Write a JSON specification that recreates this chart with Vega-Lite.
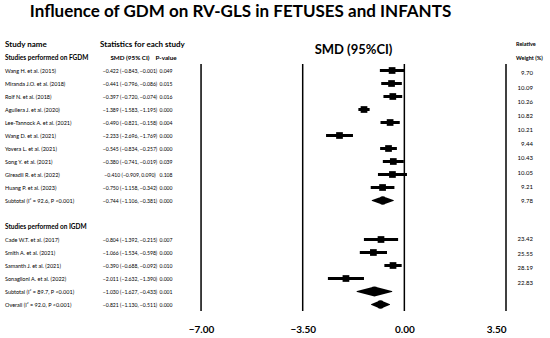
{
  "$schema": "https://vega.github.io/schema/vega-lite/v6.json",
  "padding": {"left": 5, "top": 3, "right": 0, "bottom": 0},
  "bounds": "flush",
  "title": {"text": "Influence of GDM on RV-GLS in FETUSES and INFANTS", "fontSize": 17, "fontWeight": "bold", "font": "Lato", "anchor": "middle", "dx": -36, "offset": 17, "color": "black"},
  "config": {"view": {"stroke": null}, "text": {"font": "Lato", "color": "black"}, "axis": {"labelFont": "Lato"}},
  "resolve": {"scale": {"x": "independent", "y": "independent"}},
  "spacing": 0,
  "datasets": {
    "rows": [
      {"id": "h1", "kind": "h1", "name": "Study name", "ci": "Statistics for each study", "plot": "SMD (95%CI)"},
      {"id": "h2", "kind": "h2", "name": "Studies performed on FGDM", "ci": "SMD (95% CI)", "p": "P-value"},
      {"id": "s1", "kind": "study", "group": "FGDM", "name": "Wang H. et al. (2015)", "est": -0.422, "lo": -0.843, "hi": -0.001, "ci": "−0.422 (−0.843, −0.001)", "p": "0.049", "weight": 9.70},
      {"id": "s2", "kind": "study", "group": "FGDM", "name": "Miranda J.O. et al. (2018)", "est": -0.441, "lo": -0.796, "hi": -0.086, "ci": "−0.441 (−0.796, −0.086)", "p": "0.015", "weight": 10.09},
      {"id": "s3", "kind": "study", "group": "FGDM", "name": "Rolf N. et al. (2018)", "est": -0.397, "lo": -0.720, "hi": -0.074, "ci": "−0.397 (−0.720, −0.074)", "p": "0.016", "weight": 10.26},
      {"id": "s4", "kind": "study", "group": "FGDM", "name": "Aguilera J. et al. (2020)", "est": -1.389, "lo": -1.583, "hi": -1.195, "ci": "−1.389 (−1.583, −1.195)", "p": "0.000", "weight": 10.82},
      {"id": "s5", "kind": "study", "group": "FGDM", "name": "Lee-Tannock A. et al. (2021)", "est": -0.490, "lo": -0.821, "hi": -0.158, "ci": "−0.490 (−0.821, −0.158)", "p": "0.004", "weight": 10.21},
      {"id": "s6", "kind": "study", "group": "FGDM", "name": "Wang D. et al. (2021)", "est": -2.233, "lo": -2.696, "hi": -1.769, "ci": "−2.233 (−2.696, −1.769)", "p": "0.000", "weight": 9.44},
      {"id": "s7", "kind": "study", "group": "FGDM", "name": "Yovera L. et al. (2021)", "est": -0.545, "lo": -0.834, "hi": -0.257, "ci": "−0.545 (−0.834, −0.257)", "p": "0.000", "weight": 10.43},
      {"id": "s8", "kind": "study", "group": "FGDM", "name": "Song Y. et al. (2021)", "est": -0.380, "lo": -0.741, "hi": -0.019, "ci": "−0.380 (−0.741, −0.019)", "p": "0.039", "weight": 10.05},
      {"id": "s9", "kind": "study", "group": "FGDM", "name": "Gireadli R. et al. (2022)", "est": -0.410, "lo": -0.909, "hi": 0.090, "ci": "−0.410 (−0.909, 0.090)", "p": "0.108", "weight": 9.21},
      {"id": "s10", "kind": "study", "group": "FGDM", "name": "Huang P. et al. (2023)", "est": -0.750, "lo": -1.158, "hi": -0.342, "ci": "−0.750 (−1.158, −0.342)", "p": "0.000", "weight": 9.78},
      {"id": "sub1", "kind": "sub", "name": "Subtotal (I² = 92.6, P <0.001)", "est": -0.744, "lo": -1.106, "hi": -0.381, "ci": "−0.744 (−1.106, −0.381)", "p": "0.000"},
      {"id": "gap", "kind": "gap"},
      {"id": "h3", "kind": "h2", "name": "Studies performed on IGDM"},
      {"id": "s11", "kind": "study", "group": "IGDM", "name": "Cade W.T. et al. (2017)", "est": -0.804, "lo": -1.392, "hi": -0.215, "ci": "−0.804 (−1.392, −0.215)", "p": "0.007", "weight": 23.42},
      {"id": "s12", "kind": "study", "group": "IGDM", "name": "Smith A. et al. (2021)", "est": -1.066, "lo": -1.534, "hi": -0.598, "ci": "−1.066 (−1.534, −0.598)", "p": "0.000", "weight": 25.55},
      {"id": "s13", "kind": "study", "group": "IGDM", "name": "Samanth J. et al. (2021)", "est": -0.390, "lo": -0.688, "hi": -0.092, "ci": "−0.390 (−0.688, −0.092)", "p": "0.010", "weight": 28.19},
      {"id": "s14", "kind": "study", "group": "IGDM", "name": "Sonaglioni A. et al. (2022)", "est": -2.011, "lo": -2.632, "hi": -1.390, "ci": "−2.011 (−2.632, −1.390)", "p": "0.000", "weight": 22.83},
      {"id": "sub2", "kind": "sub", "name": "Subtotal (I² = 89.7, P <0.001)", "est": -1.030, "lo": -1.627, "hi": -0.433, "ci": "−1.030 (−1.627, −0.433)", "p": "0.001"},
      {"id": "overall", "kind": "overall", "name": "Overall (I² = 92.0, P <0.001)", "est": -0.821, "lo": -1.130, "hi": -0.511, "ci": "−0.821 (−1.130, −0.511)", "p": "0.000"}
    ]
  },
  "hconcat": [
    {
      "width": 95, "height": 273,
      "data": {"name": "rows"},
      "encoding": {
        "x": {"datum": 0, "type": "quantitative", "scale": {"domain": [0, 1]}, "axis": null},
        "y": {"field": "id", "type": "nominal", "scale": {"domain": ["h1","h2","s1","s2","s3","s4","s5","s6","s7","s8","s9","s10","sub1","gap","h3","s11","s12","s13","s14","sub2","overall"], "paddingInner": 0, "paddingOuter": 0}, "axis": null},
        "text": {"field": "name"}
      },
      "layer": [
        {"transform": [{"filter": "datum.kind==='study'||datum.kind==='sub'||datum.kind==='overall'"}], "mark": {"type": "text", "align": "left", "baseline": "middle", "fontSize": 5.5}},
        {"transform": [{"filter": "datum.kind==='h1'"}], "mark": {"type": "text", "align": "left", "baseline": "middle", "fontSize": 8, "fontWeight": "bold"}},
        {"transform": [{"filter": "datum.kind==='h2'"}], "mark": {"type": "text", "align": "left", "baseline": "middle", "fontSize": 6.5, "fontWeight": "bold"}}
      ]
    },
    {
      "width": 60, "height": 273,
      "data": {"name": "rows"},
      "encoding": {
        "y": {"field": "id", "type": "nominal", "scale": {"domain": ["h1","h2","s1","s2","s3","s4","s5","s6","s7","s8","s9","s10","sub1","gap","h3","s11","s12","s13","s14","sub2","overall"], "paddingInner": 0, "paddingOuter": 0}, "axis": null},
        "text": {"field": "ci"}
      },
      "layer": [
        {"transform": [{"filter": "datum.kind==='study'||datum.kind==='sub'||datum.kind==='overall'"}], "mark": {"type": "text", "align": "center", "baseline": "middle", "fontSize": 5.1},
         "encoding": {"x": {"datum": 0.5, "type": "quantitative", "scale": {"domain": [0, 1]}, "axis": null}}},
        {"transform": [{"filter": "datum.kind==='h1'"}], "mark": {"type": "text", "align": "left", "baseline": "middle", "fontSize": 8, "fontWeight": "bold"},
         "encoding": {"x": {"datum": 0, "type": "quantitative"}}},
        {"transform": [{"filter": "datum.id==='h2'"}], "mark": {"type": "text", "align": "center", "baseline": "middle", "fontSize": 6.3, "fontWeight": "bold"},
         "encoding": {"x": {"datum": 0.5, "type": "quantitative"}}}
      ]
    },
    {
      "width": 12, "height": 273,
      "data": {"name": "rows"},
      "transform": [{"filter": "isValid(datum.p)"}],
      "encoding": {
        "x": {"datum": 0.5, "type": "quantitative", "scale": {"domain": [0, 1]}, "axis": null},
        "y": {"field": "id", "type": "nominal", "scale": {"domain": ["h1","h2","s1","s2","s3","s4","s5","s6","s7","s8","s9","s10","sub1","gap","h3","s11","s12","s13","s14","sub2","overall"], "paddingInner": 0, "paddingOuter": 0}, "axis": null},
        "text": {"field": "p"}
      },
      "layer": [
        {"transform": [{"filter": "datum.kind!=='h2'"}], "mark": {"type": "text", "align": "center", "baseline": "middle", "fontSize": 5.1}},
        {"transform": [{"filter": "datum.kind==='h2'"}], "mark": {"type": "text", "align": "center", "baseline": "middle", "fontSize": 6.3, "fontWeight": "bold"}}
      ]
    },
    {
      "width": 334, "height": 273,
      "layer": [
        {
          "data": {"values": [{"v": -7}, {"v": -3.5}, {"v": 0}, {"v": 3.5}]},
          "mark": {"type": "rule", "strokeWidth": 1.5, "color": "black", "yOffset": -6.5, "y2Offset": 6.5},
          "encoding": {
            "x": {"field": "v", "type": "quantitative", "scale": {"domain": [-8, 3.5], "nice": false, "zero": false},
                  "axis": {"values": [-7, -3.5, 0, 3.5], "format": ".2f", "title": null, "domain": false, "ticks": false, "grid": false, "labelFontSize": 10, "labelFontWeight": "bold", "labelColor": "black", "labelPadding": 13}},
            "y": {"datum": "s1", "type": "nominal", "scale": {"domain": ["h1","h2","s1","s2","s3","s4","s5","s6","s7","s8","s9","s10","sub1","gap","h3","s11","s12","s13","s14","sub2","overall"], "paddingInner": 0, "paddingOuter": 0}, "axis": null},
            "y2": {"datum": "overall"}
          }
        },
        {
          "data": {"name": "rows"},
          "transform": [{"filter": "datum.kind==='study'"}],
          "mark": {"type": "rule", "strokeWidth": 3, "color": "black"},
          "encoding": {
            "x": {"field": "lo", "type": "quantitative"},
            "x2": {"field": "hi"},
            "y": {"field": "id", "type": "nominal"}
          }
        },
        {
          "data": {"name": "rows"},
          "transform": [{"filter": "datum.kind==='study'"}],
          "mark": {"type": "point", "shape": "square", "filled": true, "color": "black", "opacity": 1, "size": 45},
          "encoding": {
            "x": {"field": "est", "type": "quantitative"},
            "y": {"field": "id", "type": "nominal"}
          }
        },
        {
          "data": {"name": "rows"},
          "transform": [{"filter": "datum.kind==='sub'||datum.kind==='overall'"}, {"fold": ["lo", "est", "hi"], "as": ["key", "val"]}],
          "mark": {"type": "trail", "color": "black"},
          "encoding": {
            "x": {"field": "val", "type": "quantitative"},
            "y": {"field": "id", "type": "nominal"},
            "detail": {"field": "id", "type": "nominal"},
            "order": {"field": "val", "type": "quantitative"},
            "size": {"condition": [{"test": "datum.key==='est' && datum.id==='sub2'", "value": 10}, {"test": "datum.key==='est'", "value": 8.5}], "value": 0}
          }
        },
        {
          "data": {"name": "rows"},
          "transform": [{"filter": "datum.id==='h1'"}],
          "mark": {"type": "text", "fontSize": 13, "fontWeight": "bold", "baseline": "middle", "dy": 5},
          "encoding": {
            "x": {"datum": -1.75, "type": "quantitative"},
            "y": {"field": "id", "type": "nominal"},
            "text": {"field": "plot"}
          }
        }
      ]
    },
    {
      "spacing": 24,
      "bounds": "flush",
      "vconcat": [
        {
          "width": 42, "height": 170,
          "layer": [
            {
              "data": {"values": [{"id": "rel", "t": "Relative"}, {"id": "wt", "t": "Weight (%)"}]},
              "mark": {"type": "text", "align": "left", "baseline": "middle", "fontSize": 5.5, "fontWeight": "bold", "dy": -1},
              "encoding": {
                "x": {"datum": 0.24, "type": "quantitative", "scale": {"domain": [0, 1]}, "axis": null},
                "y": {"field": "id", "type": "nominal", "scale": {"domain": ["rel","wt","s1","s2","s3","s4","s5","s6","s7","s8","s9","s10"], "paddingInner": 0, "paddingOuter": 0}, "axis": null},
                "text": {"field": "t"}
              }
            },
            {
              "data": {"name": "rows"},
              "transform": [{"filter": "datum.kind==='study' && datum.group==='FGDM'"}],
              "mark": {"type": "text", "align": "right", "baseline": "middle", "fontSize": 6},
              "encoding": {
                "x": {"datum": 0.64, "type": "quantitative"},
                "y": {"field": "id", "type": "nominal"},
                "text": {"field": "weight", "format": ".2f"}
              }
            }
          ]
        },
        {
          "width": 42, "height": 58,
          "data": {"name": "rows"},
          "transform": [{"filter": "datum.kind==='study' && datum.group==='IGDM'"}],
          "mark": {"type": "text", "align": "right", "baseline": "middle", "fontSize": 6},
          "encoding": {
            "x": {"datum": 0.64, "type": "quantitative", "scale": {"domain": [0, 1]}, "axis": null},
            "y": {"field": "id", "type": "nominal", "sort": null, "scale": {"paddingInner": 0, "paddingOuter": 0}, "axis": null},
            "text": {"field": "weight", "format": ".2f"}
          }
        }
      ]
    }
  ]
}
